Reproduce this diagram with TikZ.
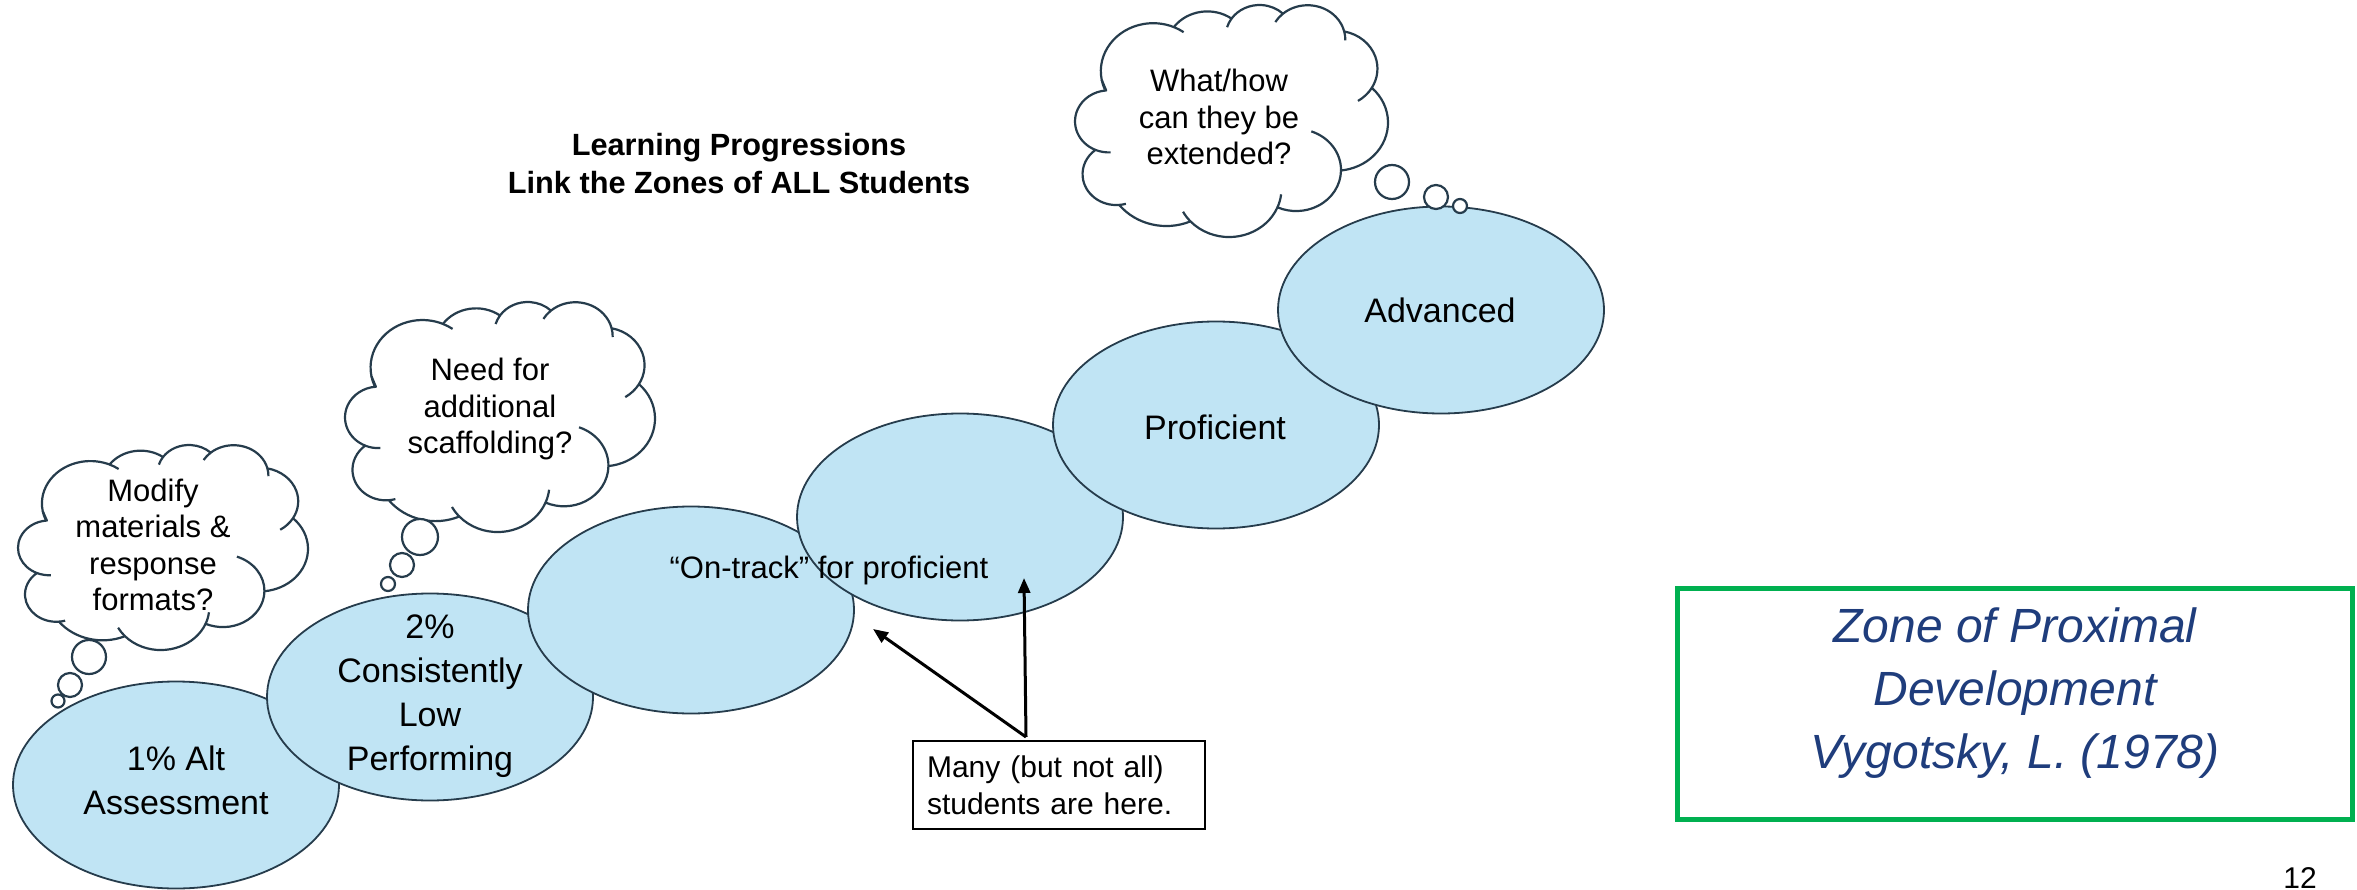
\documentclass[tikz,border=0pt]{standalone}
\usepackage{fontspec}
\setmainfont{Liberation Sans}
\usetikzlibrary{shapes.geometric,arrows.meta}
\definecolor{zonefill}{RGB}{192,228,244}
\definecolor{inkline}{RGB}{38,60,76}
\definecolor{zgreen}{RGB}{0,176,80}
\definecolor{zblue}{RGB}{31,61,124}
\newcommand{\setfs}[2]{\fontsize{#1}{#2}\selectfont}
% #1 name prefix, #2 left x, #3 top y, #4 width, #5 height
\newcommand{\drawcloud}[5]{%
\begin{scope}[shift={(#2,#3)},xscale=#4/403.9,yscale=#5/444.6,shift={(-4.55,-0.22)}]
\draw[cloudline,fill=white] (39,143.7) coordinate (#1p0)
  arc[start angle=-190.49, delta angle=123.78, x radius=67.53, y radius=91.90] coordinate (#1p1)
  arc[start angle=-144.10, delta angle=89.95, x radius=53.33, y radius=72.67] coordinate (#1p2)
  arc[start angle=-145.81, delta angle=99.72, x radius=43.65, y radius=59.45] coordinate (#1p3)
  arc[start angle=-130.99, delta angle=117.24, x radius=48.57, y radius=65.95] coordinate (#1p4)
  arc[start angle=-78.71, delta angle=109.03, x radius=53.33, y radius=72.73] coordinate (#1p5)
  arc[start angle=-46.27, delta angle=130.27, x radius=67.75, y radius=92.20] coordinate (#1p6)
  arc[start angle=0.625, delta angle=114.03, x radius=57.85, y radius=78.67] coordinate (#1p7)
  arc[start angle=22.45, delta angle=115.17, x radius=67.52, y radius=92.15] coordinate (#1p8)
  arc[start angle=66.24, delta angle=75.71, x radius=77.20, y radius=105.43] coordinate (#1p9)
  arc[start angle=85.06, delta angle=146.74, x radius=43.60, y radius=59.18] coordinate (#1p10)
  arc[start angle=113.17, delta angle=152.52, x radius=43.45, y radius=59.45]
  -- cycle;
\draw[cloudline] (#1p10) arc[start angle=113.17, delta angle=-26.43, x radius=43.45, y radius=59.45];
\draw[cloudline] (#1p9) arc[start angle=85.06, delta angle=-11.45, x radius=43.60, y radius=59.18];
\draw[cloudline] (#1p8) arc[start angle=137.62, delta angle=14.08, x radius=67.52, y radius=92.15];
\draw[cloudline] (#1p7) arc[start angle=22.45, delta angle=-16.0, x radius=67.52, y radius=92.15];
\draw[cloudline] (#1p6) arc[start angle=0.625, delta angle=-70.92, x radius=57.85, y radius=78.67];
\draw[cloudline] (#1p5) arc[start angle=30.32, delta angle=27.75, x radius=53.33, y radius=72.73];
\draw[cloudline] (#1p4) arc[start angle=-13.74, delta angle=14.86, x radius=48.57, y radius=65.95];
\draw[cloudline] (#1p3) arc[start angle=-130.99, delta angle=-18.2, x radius=48.57, y radius=65.95];
\draw[cloudline] (#1p2) arc[start angle=-145.81, delta angle=-17.69, x radius=43.65, y radius=59.45];
\draw[cloudline] (#1p1) arc[start angle=-66.71, delta angle=12.32, x radius=67.53, y radius=91.90];
\draw[cloudline] (#1p0) arc[start angle=169.51, delta angle=-11.86, x radius=67.53, y radius=91.90];
\end{scope}}
\tikzset{
  zone/.style={ellipse, draw=inkline, line width=1.8pt, fill=zonefill,
    minimum width=326pt, minimum height=207pt, inner sep=0pt},
  cloudline/.style={draw=inkline, line width=2.2pt, line join=round},
  bubble/.style={circle, draw=inkline, line width=2.2pt, fill=white, inner sep=0pt},
  zonetext/.style={align=center, inner sep=0pt, font=\setfs{34}{44}},
  cloudtext/.style={align=center, inner sep=0pt, font=\setfs{31}{36.5}},
  pointer/.style={line width=3pt, draw=black, -{Triangle[length=15pt,width=12pt]}},
}
\begin{document}
\begin{tikzpicture}[x=1pt,y=-1pt]
\useasboundingbox (0,0) rectangle (2357,890);
\fill[white] (0,0) rectangle (2357,890);

% title
\node[align=center, inner sep=0pt, font=\bfseries\setfs{30.7}{38}] (title) at (739,164)
  {Learning Progressions\\Link the Zones of ALL Students};

% zones (each drawn over the previous one)
\node[zone] (e1) at (176,785) {};
\node[zone] (e2) at (430,697) {};
\node[zone] (e3) at (691,610) {};
\node[zone] (e4) at (960,517) {};
\node[zone] (e5) at (1216,425) {};
\node[zone] (e6) at (1441,310) {};

\node[zonetext] (t1) at (176,780) {1\% Alt\\Assessment};
\node[zonetext] (t2) at (430,696) {2\%\\Consistently\\Low\\Performing};
\node[align=center, inner sep=0pt, font=\setfs{31}{36}] (t3) at (829,570) {“On-track” for proficient};
\node[zonetext] (t5) at (1215,427) {Proficient};
\node[zonetext] (t6) at (1440,310) {Advanced};

% thought clouds
\drawcloud{ca}{18}{445}{290}{205}
\drawcloud{cb}{345}{302}{310}{230}
\drawcloud{cc}{1075}{5}{313}{232}

\node[cloudtext] (ta) at (153,545) {Modify\\materials \&\\response\\formats?};
\node[cloudtext] (tb) at (490,409) {Need for\\additional\\scaffolding?};
\node[cloudtext] (tc) at (1219,117) {What/how\\can they be\\extended?};

% bubbles
\node[bubble, minimum size=34pt] (ba1) at (89,657) {};
\node[bubble, minimum size=24pt] (ba2) at (70,685) {};
\node[bubble, minimum size=13pt] (ba3) at (58,701) {};
\node[bubble, minimum size=36pt] (bb1) at (420,537) {};
\node[bubble, minimum size=24pt] (bb2) at (402,565) {};
\node[bubble, minimum size=14pt] (bb3) at (388,584) {};
\node[bubble, minimum size=34pt] (bc1) at (1392,182) {};
\node[bubble, minimum size=24pt] (bc2) at (1436,197) {};
\node[bubble, minimum size=14pt] (bc3) at (1460,206) {};

% callout box with arrows
\node[draw=black, line width=2pt, minimum width=292pt, minimum height=88pt,
  inner xsep=14pt, text width=264pt, align=left, font=\setfs{30}{37}] (many) at (1059,785)
  {Many (but not all)\\students are here.};
\coordinate (src) at ([xshift=-33pt,yshift=3pt]many.north);
\coordinate (tipa) at (873,629);
\coordinate (tipb) at (1024,578);
\draw[pointer] (src) -- (tipa);
\draw[pointer] (src) -- (tipb);

% reference box
\node[draw=zgreen, line width=5pt, minimum width=675pt, minimum height=231pt] (zpd) at (2014.5,703.5) {};
\node[align=center, inner sep=0pt, text=zblue, font=\itshape\setfs{48}{63}] (zpdtext) at (2015,693)
  {Zone of Proximal\\Development\\Vygotsky, L. (1978)};

% page number
\node[anchor=base, inner sep=0pt, font=\setfs{30}{36}] (pnum) at (2300,888) {12};
\end{tikzpicture}
\end{document}
